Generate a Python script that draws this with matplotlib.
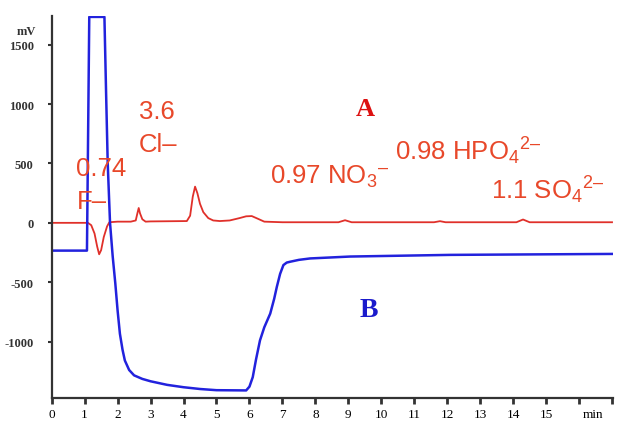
import matplotlib
matplotlib.use("Agg")
import matplotlib.pyplot as plt

plt.rcParams['mathtext.fontset'] = 'custom'
plt.rcParams['mathtext.rm'] = 'Liberation Sans'
plt.rcParams['mathtext.it'] = 'Liberation Sans:italic'
plt.rcParams['mathtext.bf'] = 'Liberation Sans:bold'

# trace A (red), minutes / mV
a_time = [0, 1.1, 1.2, 1.3, 1.38, 1.44, 1.5, 1.58, 1.68, 1.75, 2.0, 2.4, 2.55, 2.6,
          2.64, 2.68, 2.75, 2.85, 3.0, 4.1, 4.2, 4.28, 4.35, 4.42, 4.5, 4.6, 4.75,
          4.9, 5.1, 5.4, 5.7, 5.9, 6.07, 6.25, 6.45, 7.0, 8.7, 8.9, 9.1, 11.6, 11.78,
          11.95, 14.1, 14.3, 14.5, 17.0]
a_signal = [0, 0, -20, -90, -200, -265, -230, -120, -30, 5, 10, 10, 20, 80,
            125, 80, 30, 10, 12, 15, 60, 220, 305, 250, 160, 90, 40,
            20, 15, 20, 40, 55, 57, 35, 10, 5, 5, 22, 5, 5, 14,
            5, 5, 28, 5, 5]

# trace B (blue)
b_time = [0, 1.07, 1.14, 1.6, 1.65, 1.7, 1.77, 1.85, 1.93, 2.0, 2.07, 2.15, 2.22,
          2.35, 2.5, 2.75, 3.0, 3.5, 4.0, 4.5, 5.0, 5.9, 6.0, 6.1, 6.2, 6.32, 6.45,
          6.63, 6.75, 6.83, 6.93, 7.03, 7.13, 7.23, 7.5, 7.84, 9.05, 12.09, 17.0]
b_signal = [-234, -234, 1735, 1735, 1100, 500, 0, -280, -510, -740, -935, -1070, -1160,
            -1240, -1285, -1315, -1335, -1365, -1385, -1400, -1410, -1412, -1380, -1300,
            -1150, -990, -880, -765, -640, -540, -430, -356, -335, -328, -312, -300,
            -284, -270, -262]

x_ticks = list(range(0, 18))
x_labels = [str(i) for i in range(16)] + ['', '']
y_ticks = [1500, 1000, 500, 0, -500, -1000]
y_labels = ['1500', '1000', '500', '0', '-500', '-1000']

# peak labels: text, x, y (baseline, left)
peak_labels = [
    ('0.74', 0.74, 406),
    ('F\u2013', 0.77, 128),
    ('3.6', 2.65, 882),
    ('Cl\u2013', 2.65, 602),
    ('0.97 NO$_3$$^{\u2013}$', 6.63, 336),
    ('0.98 HPO$_4$$^{2\u2013}$', 10.42, 538),
    ('1.1 SO$_4$$^{2\u2013}$', 13.32, 210),
]

red = '#e0302a'
label_red = '#e8482a'
blue = '#2222dd'

fig = plt.figure(figsize=(6.25, 4.31), dpi=100)
ax = fig.add_axes([0.0827, 0.0742, 0.8976, 0.887])

ax.plot(a_time, a_signal, color=red, lw=1.3)
ax.plot(b_time, b_signal, color=blue, lw=1.8)

ax.set_xlim(0, 17.02)
ax.set_ylim(-1476, 1745)

for s in ['top', 'right']:
    ax.spines[s].set_visible(False)
for s in ['left', 'bottom']:
    ax.spines[s].set_color('#333333')
    ax.spines[s].set_linewidth(1.6)

ax.set_xticks(x_ticks)
ax.set_xticklabels(x_labels, family='Liberation Serif', fontsize=9.5)
ax.set_yticks(y_ticks)
ax.set_yticklabels(y_labels, family='Liberation Serif', fontsize=9, fontweight='bold', color='#333333')
ax.tick_params(axis='x', direction='out', length=4, width=2, color='#333333', pad=3)
ax.tick_params(axis='y', direction='out', length=3, width=1.5, color='#333333', pad=10)

ax.text(16.43, -0.027, 'min', transform=ax.get_xaxis_transform(), ha='center', va='top',
        family='Liberation Serif', fontsize=9.5)
fig.text(26.7 / 625, 1 - 31.7 / 431, 'mV', ha='center', va='center',
         family='Liberation Serif', fontsize=9, fontweight='bold', color='#333333')

for txt, x, y in peak_labels:
    ax.text(x, y, txt, color=label_red, family='Liberation Sans', fontsize=18.5,
            ha='left', va='baseline')

ax.text(9.51, 960, 'A', color='#dd1111', family='Liberation Serif', fontweight='bold',
        fontsize=19, ha='center', va='center')
ax.text(9.61, -733, 'B', color='#1a1acc', family='Liberation Serif', fontweight='bold',
        fontsize=20, ha='center', va='center')

fig.savefig('out.png', dpi=100)
